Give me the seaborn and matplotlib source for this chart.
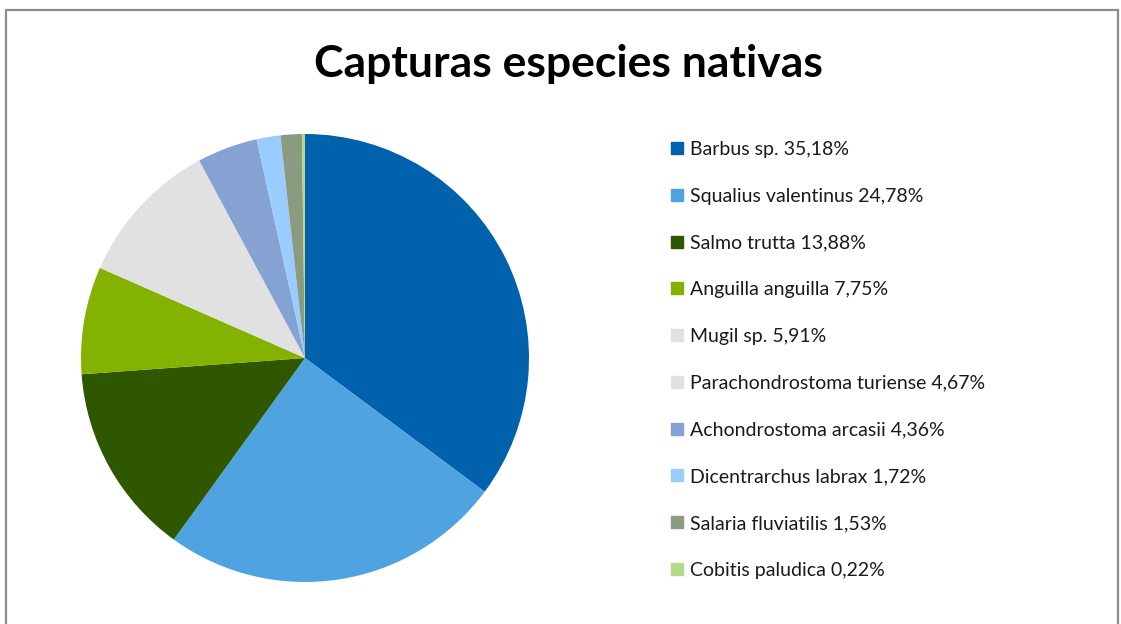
import matplotlib
matplotlib.use("Agg")
import matplotlib.pyplot as plt
from matplotlib.lines import Line2D
from matplotlib.patches import Rectangle
import seaborn as sns

species = ["Barbus sp.", "Squalius valentinus", "Salmo trutta", "Anguilla anguilla",
           "Mugil sp.", "Parachondrostoma turiense", "Achondrostoma arcasii",
           "Dicentrarchus labrax", "Salaria fluviatilis", "Cobitis paludica"]
percent = [35.18, 24.78, 13.88, 7.75, 5.91, 4.67, 4.36, 1.72, 1.53, 0.22]
percent_labels = ["35,18%", "24,78%", "13,88%", "7,75%", "5,91%", "4,67%",
                  "4,36%", "1,72%", "1,53%", "0,22%"]
colors_hex = ["#0061AC", "#4FA3E0", "#2E5700", "#84B200", "#E1E1E1",
              "#E1E1E1", "#86A2D2", "#99CCFF", "#8A9B80", "#B5D98A"]

sns.set_theme(style="white")
plt.rcParams["font.family"] = ["Lato", "DejaVu Sans"]
palette = sns.color_palette(colors_hex)

W, H = 1121, 624
fig = plt.figure(figsize=(W / 100, H / 100), dpi=100)
fig.patch.set_facecolor("white")

# chart frame
frame = Rectangle((6 / W, -0.1), (1118 - 6) / W, (H - 9.5) / H + 0.1,
                  transform=fig.transFigure, fill=False, edgecolor="#8C8C8C",
                  linewidth=1.6)
fig.patches.append(frame)

cx, cy, r = 305, 358, 224
ax = fig.add_axes([(cx - r) / W, (H - cy - r) / H, 2 * r / W, 2 * r / H])
ax.pie(percent, colors=palette, startangle=90, counterclock=False,
       radius=1.0, wedgeprops=dict(linewidth=0))
ax.set_xlim(-1, 1)
ax.set_ylim(-1, 1)
ax.set_aspect("equal")
ax.axis("off")

fig.text(568 / W, 1 - 64 / H, "Capturas especies nativas", ha="center",
         va="center", fontsize=32, fontweight="bold", color="black")

handles = [Line2D([], [], linestyle="none", marker="s", markersize=8.5,
                  markerfacecolor=c, markeredgecolor=c) for c in palette]
labels = [f"{s} {p}" for s, p in zip(species, percent_labels)]
leg = fig.legend(handles, labels, loc="upper left",
                 bbox_to_anchor=(670 / W, 1 - 141 / H), frameon=False,
                 fontsize=14, labelspacing=1.53, handlelength=0.75,
                 handletextpad=0.3, borderaxespad=0, borderpad=0)
for t in leg.get_texts():
    t.set_color("#1A1A1A")

fig.savefig("out.png", dpi=100, facecolor="white")
